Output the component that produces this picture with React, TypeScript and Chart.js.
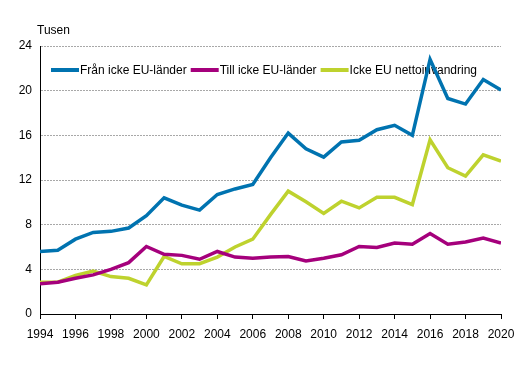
import React, { useEffect, useRef } from "react";
import { Chart, registerables } from "chart.js";

Chart.register(...registerables);

const years = [1994,1995,1996,1997,1998,1999,2000,2001,2002,2003,2004,2005,2006,2007,2008,2009,2010,2011,2012,2013,2014,2015,2016,2017,2018,2019,2020];
const franIckeEU = [5.6,5.7,6.7,7.3,7.4,7.7,8.8,10.4,9.75,9.3,10.7,11.2,11.6,14.0,16.2,14.8,14.05,15.4,15.55,16.5,16.9,16.0,22.8,19.3,18.8,21.0,20.05];
const tillIckeEU = [2.7,2.85,3.2,3.5,4.0,4.6,6.05,5.35,5.25,4.9,5.6,5.1,5.0,5.1,5.15,4.75,5.0,5.3,6.05,5.95,6.35,6.25,7.2,6.25,6.45,6.8,6.35];
const netto = [2.85,2.85,3.45,3.85,3.35,3.2,2.6,5.15,4.5,4.5,5.1,6.0,6.7,8.9,11.0,10.05,9.0,10.1,9.5,10.45,10.45,9.8,15.6,13.1,12.35,14.25,13.7];
const seriesNames = ["Från icke EU-länder", "Till icke EU-länder", "Icke EU nettoinvandring"];
const seriesColors = ["#0073b0", "#a5007c", "#bed22e"];
const unitLabel = "Tusen";

const FONT = "Arial, 'Liberation Sans', sans-serif";

export default function App() {
  const ref = useRef<HTMLCanvasElement | null>(null);
  useEffect(() => {
    document.body.style.margin = "0";
    const canvas = ref.current!;
    const series = [franIckeEU, tillIckeEU, netto];
    const legendPlugin = {
      id: "customLegend",
      beforeDatasetsDraw(chart: any) {
        const ctx = chart.ctx;
        const ca = chart.chartArea;
        ctx.save();
        ctx.font = `12px ${FONT}`;
        ctx.textBaseline = "middle";
        let x = ca.left + 11;
        const y = 70;
        chart.data.datasets.forEach((ds: any) => {
          ctx.strokeStyle = ds.borderColor;
          ctx.lineWidth = 4;
          ctx.beginPath();
          ctx.moveTo(x, y);
          ctx.lineTo(x + 28, y);
          ctx.stroke();
          x += 29;
          ctx.fillStyle = "#000";
          ctx.fillText(ds.label, x, y + 1);
          x += ctx.measureText(ds.label).width + 4;
        });
        ctx.restore();
      },
      afterDraw(chart: any) {
        const ctx = chart.ctx;
        ctx.save();
        ctx.font = `12px ${FONT}`;
        ctx.fillStyle = "#000";
        ctx.textBaseline = "alphabetic";
        ctx.fillText(unitLabel, 37, 34);
        ctx.restore();
      },
    };
    const chart = new Chart(canvas, {
      type: "line",
      data: {
        datasets: series.map((s, i) => ({
          label: seriesNames[i],
          data: years.map((yr, j) => ({ x: yr, y: s[j] })),
          borderColor: seriesColors[i],
          backgroundColor: seriesColors[i],
          borderWidth: 3.5,
          pointRadius: 0,
          tension: 0,
          fill: false,
        })),
      },
      options: {
        animation: false,
        responsive: false,
        maintainAspectRatio: false,
        layout: { padding: { left: 0, right: 29, top: 46, bottom: 0 } },
        plugins: {
          legend: { display: false },
          tooltip: { enabled: false },
        },
        scales: {
          x: {
            type: "linear",
            min: 1994,
            max: 2020,
            afterFit(scale: any) { scale.height = 72; },
            ticks: {
              stepSize: 2,
              autoSkip: false,
              maxRotation: 0,
              padding: 8,
              color: "#000",
              font: { family: FONT, size: 12 },
              callback: (v: any) => String(v),
            },
            grid: {
              drawOnChartArea: false,
              drawTicks: true,
              tickLength: 5,
              color: "#000",
            },
            border: { color: "#000", width: 1 },
          },
          y: {
            min: 0,
            max: 24,
            afterFit(scale: any) { scale.width = 40; },
            ticks: {
              stepSize: 4,
              padding: 8,
              color: "#000",
              font: { family: FONT, size: 12 },
            },
            grid: {
              drawTicks: false,
              color: "#a8a8a8",
              lineWidth: 1,
            },
            border: { color: "#000", width: 1, dash: [2, 1] },
          },
        },
      },
      plugins: [legendPlugin],
    } as any);
    return () => chart.destroy();
  }, []);
  return <canvas ref={ref} width={530} height={386} style={{ display: "block" }} />;
}
